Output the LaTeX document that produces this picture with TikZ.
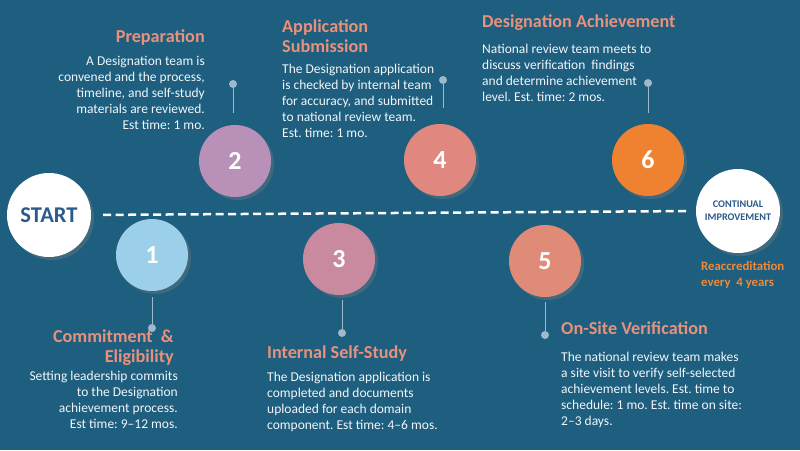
\documentclass[tikz,border=0pt]{standalone}
\usepackage{fontspec}
\setmainfont{Carlito}
\frenchspacing
\usetikzlibrary{shadows}
\definecolor{bgc}{RGB}{30,94,126}
\definecolor{ttl}{RGB}{232,145,125}
\definecolor{bodyc}{RGB}{242,246,250}
\definecolor{stemc}{RGB}{160,184,204}
\definecolor{dblue}{RGB}{44,90,140}
\definecolor{orng}{RGB}{238,138,58}
\definecolor{cone}{RGB}{156,207,234}
\definecolor{ctwo}{RGB}{184,144,184}
\definecolor{cthree}{RGB}{201,138,160}
\definecolor{cfour}{RGB}{224,135,127}
\definecolor{cfive}{RGB}{224,138,120}
\definecolor{csix}{RGB}{238,130,48}
\tikzset{
  stepcircle/.style={circle, minimum size=72pt, inner sep=0pt, text=white,
    font=\fontsize{26}{26}\selectfont\bfseries,
    drop shadow={opacity=0.35, shadow xshift=3pt, shadow yshift=-3pt}},
  endcircle/.style={circle, fill=white, minimum size=84pt, inner sep=0pt, text=dblue,
    drop shadow={opacity=0.35, shadow xshift=3pt, shadow yshift=-3pt}},
  titletext/.style={inner sep=0pt, text=ttl, font=\fontsize{18.2}{20}\selectfont\bfseries},
  bodytext/.style={inner sep=0pt, text=bodyc, font=\fontsize{13.5}{16}\selectfont},
  dotmark/.style={circle, fill=stemc, minimum size=8pt, inner sep=0pt},
  stemline/.style={draw=stemc, line width=1pt}
}
\begin{document}
\begin{tikzpicture}[x=1pt,y=-1pt]
\useasboundingbox (0,0) rectangle (800,450);
\fill[bgc] (0,0) rectangle (800,450);

% end circles
\node[endcircle, font=\fontsize{22.5}{22.5}\selectfont\bfseries] (start) at (49,215) {START};
\node[endcircle, align=center, font=\fontsize{10.2}{13}\selectfont\bfseries] (ci) at (738,211) {CONTINUAL\\IMPROVEMENT};
\draw[white, line width=2.5pt, dash pattern=on 8pt off 4.5pt, shorten <=12pt, shorten >=6pt] (start.east) -- (ci.west);

% step circles
\node[stepcircle, fill=cone]   (c1) at (152,255) {1};
\node[stepcircle, fill=ctwo]   (c2) at (235,161) {2};
\node[stepcircle, fill=cthree] (c3) at (339,259) {3};
\node[stepcircle, fill=cfour]  (c4) at (440,160) {4};
\node[stepcircle, fill=cfive]  (c5) at (545,261) {5};
\node[stepcircle, fill=csix]   (c6) at (648,160) {6};

% stems
\node[dotmark] (d1) at (152,328) {};
\coordinate (e1) at (152,297);
\draw[stemline] (e1) -- (d1);
\node[dotmark] (d2) at (233,84) {};
\coordinate (e2) at (233,113);
\draw[stemline] (d2) -- (e2);
\node[dotmark] (d3) at (342,333) {};
\coordinate (e3) at (342,300);
\draw[stemline] (e3) -- (d3);
\node[dotmark] (d4) at (443,80) {};
\coordinate (e4) at (443,108);
\draw[stemline] (d4) -- (e4);
\node[dotmark] (d5) at (545,335) {};
\coordinate (e5) at (545,302);
\draw[stemline] (e5) -- (d5);
\node[dotmark] (d6) at (648,83) {};
\coordinate (e6) at (648,113);
\draw[stemline] (d6) -- (e6);

% texts: Preparation
\node[titletext, anchor=north east] (t2) at (205,30) {Preparation};
\node[bodytext, anchor=north east, align=right] (b2) at (205,56) {A Designation team is\\convened and the process,\\timeline, and self-study\\materials are reviewed.\\Est time: 1 mo.};

% Application Submission
\node[titletext, anchor=north west, align=left] (t4) at (282,20) {Application\\Submission};
\node[bodytext, anchor=north west, align=left] (b4) at (282,64) {The Designation application\\is checked by internal team\\for accuracy, and submitted\\to national review team.\\Est. time: 1 mo.};

% Designation Achievement
\node[titletext, anchor=north west] (t6) at (482,15) {Designation\ Achievement};
\node[bodytext, anchor=north west, align=left] (b6) at (482,44) {National review team meets to\\discuss verification\ \ findings\\and determine achievement\\level. Est. time: 2 mos.};

% Commitment & Eligibility
\node[titletext, anchor=north east, align=right] (t1) at (174,330) {Commitment\ \ \&\\Eligibility};
\node[bodytext, anchor=north east, align=right] (b1) at (178,371) {Setting leadership commits\\to the Designation\\achievement process.\\Est time: 9–12 mos.};

% Internal Self-Study
\node[titletext, anchor=north west] (t3) at (267,346) {Internal Self-Study};
\node[bodytext, anchor=north west, align=left] (b3) at (267,372) {The Designation application is\\completed and documents\\uploaded for each domain\\component. Est time: 4–6 mos.};

% On-Site Verification
\node[titletext, anchor=north west] (t5) at (561,321) {On-Site Verification};
\node[bodytext, anchor=north west, align=left] (b5) at (561,352) {The national review team makes\\a site visit to verify self-selected\\achievement levels. Est. time to\\schedule: 1 mo. Est. time on site:\\2–3 days.};

% Reaccreditation
\node[inner sep=0pt, anchor=north west, align=left, text=orng, font=\fontsize{12.8}{16}\selectfont\bfseries] (re) at (701,261) {Reaccreditation\\every\ \ 4 years};
\end{tikzpicture}
\end{document}
